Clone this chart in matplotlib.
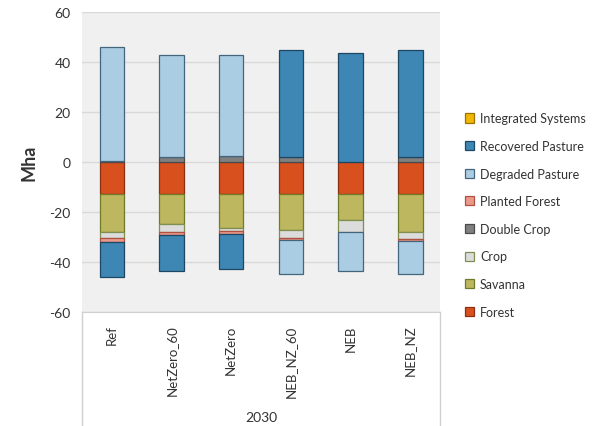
import numpy as np
import matplotlib
matplotlib.use("Agg")
import matplotlib.pyplot as plt
from matplotlib.patches import Patch
from matplotlib.lines import Line2D

plt.rcParams['font.family'] = ['Lato', 'DejaVu Sans']
plt.rcParams['axes.unicode_minus'] = False

# Scenarios (2030)
scenarios = ["Ref", "NetZero_60", "NetZero", "NEB_NZ_60", "NEB", "NEB_NZ"]

# Land use change, Mha
forest = [-12.8, -12.8, -12.8, -12.8, -12.8, -12.8]
savanna = [-15.2, -12.1, -13.5, -14.5, -10.4, -15.2]
crop = [-2.6, -3.0, -1.4, -3.0, -4.9, -2.8]
double_crop = [0.5, 1.8, 2.5, 1.9, 0.0, 1.9]
planted_forest = [-1.4, -1.3, -1.0, -0.9, 0.0, -0.8]
degraded_pasture = [45.4, 41.0, 40.3, -13.7, -15.5, -13.3]
recovered_pasture = [-13.9, -14.4, -14.2, 42.9, 43.5, 42.9]
integrated_systems = [0.0, 0.0, 0.0, 0.0, 0.0, 0.0]

series = [
    ("Forest", forest, "#D9501F", "#8a3010"),
    ("Savanna", savanna, "#BDB760", "#6f7a2a"),
    ("Crop", crop, "#DCDCDC", "#7f8f50"),
    ("Double Crop", double_crop, "#808080", "#4a4a4a"),
    ("Planted Forest", planted_forest, "#E8998A", "#b05040"),
    ("Degraded Pasture", degraded_pasture, "#ABCDE3", "#44657e"),
    ("Recovered Pasture", recovered_pasture, "#3E87B4", "#1d4763"),
    ("Integrated Systems", integrated_systems, "#F2B705", "#9a7400"),
]

fig = plt.figure(figsize=(5.98, 4.27), dpi=100)
ax = fig.add_axes([0.137, 0.267, 0.599, 0.703])
ax.set_facecolor("#f0f0f0")

x = np.arange(len(scenarios))
pos_bottom = np.zeros(len(scenarios))
neg_bottom = np.zeros(len(scenarios))
for name, vals, fc, ec in series:
    v = np.array(vals)
    b = np.where(v >= 0, pos_bottom, neg_bottom)
    keep = v != 0
    if keep.any():
        ax.bar(x[keep], v[keep], 0.41, bottom=b[keep], color=fc, edgecolor=ec,
               linewidth=0.9, zorder=3)
    pos_bottom = pos_bottom + np.where(v > 0, v, 0)
    neg_bottom = neg_bottom + np.where(v < 0, v, 0)

ax.set_xlim(-0.5, len(scenarios) - 0.5)
ax.set_ylim(-60, 60)
ax.set_yticks(np.arange(-60, 61, 20))
ax.yaxis.grid(True, color="#d9d9d9", linewidth=1.0, zorder=0)
ax.set_axisbelow(True)
ax.tick_params(axis="y", length=0, pad=8, labelsize=10, labelcolor="#333333")
ax.set_xticks(x)
ax.set_xticklabels(scenarios, rotation=90, fontsize=9.5, color="#333333")
ax.tick_params(axis="x", length=0, pad=9)
for s in ["top", "left", "right"]:
    ax.spines[s].set_visible(False)
ax.spines["bottom"].set_color("#d0d0d0")
ax.set_ylabel("Mha", fontsize=13, fontweight="bold", color="#333333", labelpad=9)

# category group box
fig.add_artist(Line2D([0.137, 0.137], [0.0, 0.267], color="#d0d0d0", lw=1.0))
fig.add_artist(Line2D([0.736, 0.736], [0.0, 0.267], color="#d0d0d0", lw=1.0))
fig.text(0.4365, 0.021, "2030", ha="center", va="center", fontsize=10, color="#333333")

handles = [Patch(facecolor=fc, edgecolor=ec, linewidth=0.9, label=name)
           for name, vals, fc, ec in series][::-1]
fig.legend(handles=handles, loc="center left", bbox_to_anchor=(0.767, 0.494),
           frameon=False, fontsize=9, handlelength=0.75, handleheight=0.75,
           handletextpad=0.45, labelspacing=1.25, borderpad=0, labelcolor="#333333")

fig.savefig("out.png", dpi=100)
